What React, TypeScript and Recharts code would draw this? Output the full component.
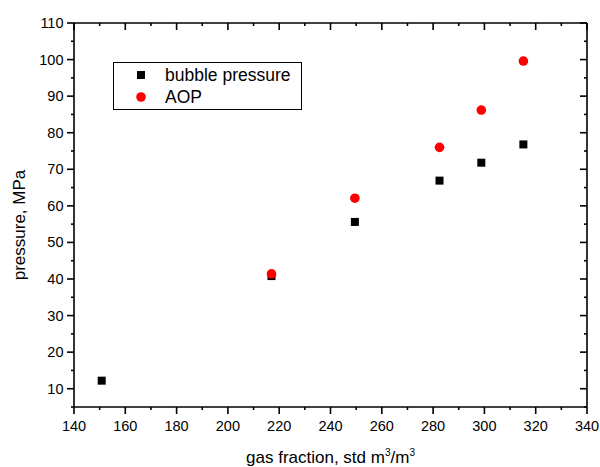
import React from 'react';
import { ScatterChart, Scatter, XAxis, YAxis, Legend } from 'recharts';

// gas fraction, std m3/m3
const gasFraction = [150.8, 217, 249.5, 282.5, 298.8, 315.2];
const bubblePressure = [12.2, 40.8, 55.6, 66.9, 71.8, 76.8];
const aopGas = [217, 249.5, 282.5, 298.8, 315.2];
const aopPressure = [41.4, 62.1, 76.0, 86.2, 99.6];

const xMajor = [140, 160, 180, 200, 220, 240, 260, 280, 300, 320, 340];
const xAll = [140, 150, 160, 170, 180, 190, 200, 210, 220, 230, 240, 250, 260, 270, 280, 290, 300, 310, 320, 330, 340];
const yMajor = [10, 20, 30, 40, 50, 60, 70, 80, 90, 100, 110];
const yAll = [5, 10, 15, 20, 25, 30, 35, 40, 45, 50, 55, 60, 65, 70, 75, 80, 85, 90, 95, 100, 105, 110];

const bubbleData = gasFraction.map((x, i) => ({ x, y: bubblePressure[i] }));
const aopData = aopGas.map((x, i) => ({ x, y: aopPressure[i] }));

const FONT = '"Liberation Sans", Arial, sans-serif';
const LW = 1.6;
const TICK_FS = 14.5;

const BottomTick = ({ x, y, payload }: any) => {
  const major = xMajor.includes(payload.value);
  return (
    <g>
      <line x1={x} x2={x} y1={y} y2={y + (major ? 7 : 3)} stroke="#000" strokeWidth={LW} />
      {major && (
        <text x={x} y={y + 24} textAnchor="middle" fontSize={TICK_FS} fontFamily={FONT} fill="#000">
          {payload.value}
        </text>
      )}
    </g>
  );
};

const TopTick = ({ x, y, payload }: any) => {
  const major = xMajor.includes(payload.value);
  return <line x1={x} x2={x} y1={y} y2={y + (major ? 7 : 3)} stroke="#000" strokeWidth={LW} />;
};

const LeftTick = ({ x, y, payload }: any) => {
  const major = yMajor.includes(payload.value);
  return (
    <g>
      <line x1={x - (major ? 7 : 3)} x2={x} y1={y} y2={y} stroke="#000" strokeWidth={LW} />
      {major && (
        <text x={x - 10.5} y={y + 5} textAnchor="end" fontSize={TICK_FS} fontFamily={FONT} fill="#000">
          {payload.value}
        </text>
      )}
    </g>
  );
};

const RightTick = ({ x, y, payload }: any) => {
  const major = yMajor.includes(payload.value);
  return <line x1={x - (major ? 7 : 3)} x2={x} y1={y} y2={y} stroke="#000" strokeWidth={LW} />;
};

const XTitle = ({ viewBox }: any) => (
  <text x={viewBox.x + viewBox.width / 2} y={viewBox.y + 56} textAnchor="middle" fontSize={17} fontFamily={FONT} fill="#000">
    gas fraction, std m<tspan dy={-7} fontSize={10}>3</tspan>
    <tspan dy={7}>/m</tspan>
    <tspan dy={-7} fontSize={10}>3</tspan>
  </text>
);

const YTitle = () => (
  <text x={25} y={225} transform="rotate(-90, 25, 225)" textAnchor="middle" fontSize={17} fontFamily={FONT} fill="#000">
    pressure, MPa
  </text>
);

const SquareDot = ({ cx, cy }: any) => <rect x={cx - 4} y={cy - 4} width={8} height={8} fill="#000" />;
const RedDot = ({ cx, cy }: any) => <circle cx={cx} cy={cy} r={4.8} fill="#ff0000" />;
const NoDot = () => <g />;

const LegendBox = () => (
  <div
    style={{
      position: 'relative',
      width: 189,
      height: 48,
      border: '1px solid #000',
      boxSizing: 'border-box',
      background: '#fff',
      fontFamily: FONT,
      fontSize: 17.5,
      color: '#000',
    }}
  >
    <svg width={20} height={48} style={{ position: 'absolute', left: 17, top: -1 }}>
      <rect x={6} y={9} width={8} height={8} fill="#000" />
      <circle cx={10} cy={35} r={4.8} fill="#ff0000" />
    </svg>
    <div style={{ position: 'absolute', left: 51, top: 1, lineHeight: '22px', whiteSpace: 'nowrap' }}>bubble pressure</div>
    <div style={{ position: 'absolute', left: 51, top: 23, lineHeight: '22px', whiteSpace: 'nowrap' }}>AOP</div>
  </div>
);

export default function App() {
  return (
    <div style={{ position: 'absolute', left: 0, top: 0, background: '#fff' }}>
      <ScatterChart width={600} height={467} margin={{ top: 22, right: 12, left: 0, bottom: 0 }}>
        <XAxis
          dataKey="x"
          type="number"
          domain={[140, 340]}
          allowDataOverflow
          ticks={xAll}
          interval={0}
          height={60}
          tickSize={0}
          tickMargin={0}
          tickLine={false}
          tick={BottomTick}
          axisLine={{ stroke: '#000', strokeWidth: LW }}
          label={<XTitle />}
        />
        <XAxis
          xAxisId="top"
          dataKey="x"
          orientation="top"
          type="number"
          domain={[140, 340]}
          allowDataOverflow
          ticks={xAll}
          interval={0}
          height={1}
          tickSize={0}
          tickMargin={0}
          tickLine={false}
          tick={TopTick}
          axisLine={{ stroke: '#000', strokeWidth: LW }}
        />
        <YAxis
          dataKey="y"
          type="number"
          domain={[5, 110]}
          allowDataOverflow
          ticks={yAll}
          interval={0}
          width={74}
          tickSize={0}
          tickMargin={0}
          tickLine={false}
          tick={LeftTick}
          axisLine={{ stroke: '#000', strokeWidth: LW }}
          label={<YTitle />}
        />
        <YAxis
          yAxisId="right"
          dataKey="y"
          orientation="right"
          type="number"
          domain={[5, 110]}
          allowDataOverflow
          ticks={yAll}
          interval={0}
          width={1}
          tickSize={0}
          tickMargin={0}
          tickLine={false}
          tick={RightTick}
          axisLine={{ stroke: '#000', strokeWidth: LW }}
        />
        <Legend
          layout="vertical"
          align="center"
          verticalAlign="middle"
          content={<LegendBox />}
          wrapperStyle={{ left: 113, top: 62, width: 189, height: 48 }}
        />
        <Scatter
          xAxisId="top"
          yAxisId="right"
          data={bubbleData}
          shape={NoDot}
          legendType="none"
          isAnimationActive={false}
        />
        <Scatter name="bubble pressure" data={bubbleData} shape={SquareDot} isAnimationActive={false} />
        <Scatter name="AOP" data={aopData} shape={RedDot} isAnimationActive={false} />
      </ScatterChart>
    </div>
  );
}
